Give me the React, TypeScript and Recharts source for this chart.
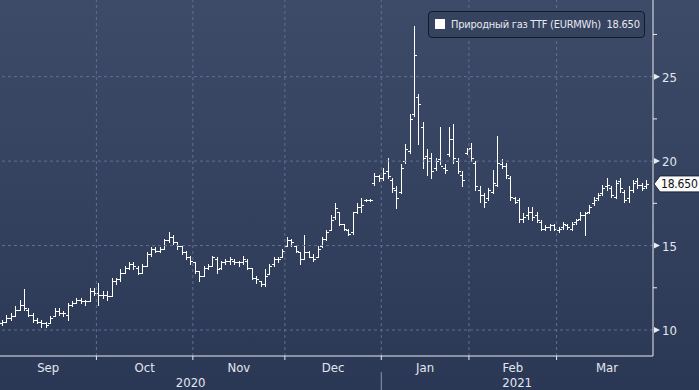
import React from 'react';
import { ComposedChart, Bar, XAxis, YAxis, ReferenceLine } from 'recharts';

// ---- data (daily OHLC, TTF natural gas, EUR/MWh) ----
const monthLabels = ['Sep', 'Oct', 'Nov', 'Dec', 'Jan', 'Feb', 'Mar'];
const monthTradingDays = [22, 22, 21, 22, 20, 20, 23];
const yearLabels = ['2020', '2021'];
const yearMonthCounts = [4, 3];
const yMajorTicks = [10, 15, 20, 25];
const yMinorTicks = [12.5, 17.5, 22.5, 27.5];
const lastPrice = 18.65;
const seriesName = 'Природный газ TTF (EURMWh)';

const opens = [
  // Sep
  10.4, 10.5, 10.7, 10.8, 11.2, 11.5, 11.2, 10.9, 10.6, 10.5, 10.4, 10.4, 10.8, 11.1, 11.0, 10.9, 11.5, 11.6, 11.8, 11.7, 11.7, 12.3,
  // Oct
  12.2, 12.1, 12.1, 12.0, 12.9, 13.0, 13.4, 13.7, 13.9, 13.7, 13.4, 13.8, 14.5, 14.8, 14.7, 14.8, 15.3, 15.5, 15.2, 15.0, 14.6, 14.3,
  // Nov
  14.0, 13.5, 13.2, 13.7, 13.8, 14.2, 13.7, 14.0, 14.1, 14.1, 14.0, 14.0, 14.1, 13.7, 13.1, 12.9, 12.7, 13.3, 13.9, 14.2, 14.3,
  // Dec
  15.0, 15.3, 15.0, 14.6, 14.2, 14.6, 14.3, 14.3, 15.0, 15.4, 15.9, 16.7, 17.0, 16.3, 15.9, 15.8, 17.0, 17.3, 17.7, 17.7, 18.7, 19.1,
  // Jan
  19.0, 19.4, 18.9, 18.3, 18.2, 20.0, 20.6, 22.8, 23.8, 22.0, 20.3, 20.2, 19.6, 20.1, 19.6, 20.4, 21.3, 20.0, 19.2, 20.5,
  // Feb
  20.8, 19.9, 18.3, 18.0, 17.8, 18.2, 18.6, 19.8, 19.7, 19.0, 17.8, 17.7, 16.6, 16.8, 17.0, 16.8, 16.4, 16.0, 16.1, 16.2,
  // Mar
  15.9, 16.1, 16.2, 16.0, 16.4, 16.6, 16.8, 17.0, 17.5, 17.8, 18.1, 18.5, 18.4, 17.9, 18.8, 18.2, 17.8, 18.3, 18.8, 18.6, 18.5,
];
const highs = [
  10.6, 10.9, 11.0, 11.4, 11.8, 12.4, 11.3, 11.0, 10.7, 10.6, 10.5, 10.8, 11.3, 11.3, 11.1, 11.6, 11.7, 11.9, 11.9, 11.8, 12.5, 12.5,
  12.8, 12.3, 12.3, 13.1, 13.1, 13.6, 13.8, 14.0, 14.0, 13.8, 13.9, 14.6, 14.9, 14.9, 14.9, 15.4, 15.8, 15.6, 15.2, 15.0, 14.7, 14.4,
  14.0, 13.5, 13.8, 13.9, 14.4, 14.3, 14.1, 14.2, 14.3, 14.2, 14.1, 14.4, 14.2, 13.7, 13.2, 12.9, 13.6, 13.9, 14.3, 14.3, 14.8,
  15.5, 15.4, 15.0, 14.6, 15.6, 14.7, 14.5, 15.0, 15.5, 15.9, 16.8, 17.5, 17.0, 16.3, 16.0, 17.0, 17.5, 17.8, 17.75, 17.75, 19.3, 19.2,
  19.6, 20.2, 19.0, 18.5, 19.8, 21.0, 22.8, 28.0, 24.0, 22.3, 20.7, 20.5, 20.2, 22.0, 19.8, 22.0, 22.2, 20.2, 19.4, 20.8,
  21.1, 20.0, 18.5, 18.1, 18.4, 19.5, 21.5, 20.1, 19.9, 19.1, 17.9, 17.8, 16.9, 17.3, 17.3, 17.0, 16.5, 16.2, 16.3, 16.3,
  16.1, 16.4, 16.3, 16.4, 16.6, 17.0, 17.0, 17.4, 17.9, 18.1, 18.6, 19.0, 18.5, 18.9, 19.0, 18.3, 18.5, 18.9, 19.0, 18.7, 18.9,
];
const lows = [
  10.3, 10.5, 10.6, 10.8, 11.2, 11.2, 10.8, 10.5, 10.4, 10.2, 10.2, 10.4, 10.8, 10.9, 10.8, 10.6, 11.4, 11.6, 11.6, 11.5, 11.7, 12.1,
  11.5, 11.9, 11.8, 12.0, 12.7, 12.9, 13.4, 13.6, 13.6, 13.3, 13.4, 13.8, 14.4, 14.6, 14.6, 14.8, 15.2, 15.1, 14.8, 14.5, 14.2, 13.9,
  13.4, 12.9, 13.2, 13.6, 13.8, 13.4, 13.6, 13.9, 13.9, 13.9, 13.8, 13.9, 13.6, 13.0, 12.8, 12.6, 12.6, 13.3, 13.8, 14.0, 14.3,
  15.0, 15.0, 14.6, 13.9, 14.2, 14.3, 14.1, 14.3, 14.9, 15.3, 15.9, 16.6, 16.2, 15.9, 15.6, 15.7, 16.9, 17.0, 17.65, 17.65, 18.6, 18.8,
  18.9, 19.0, 18.2, 17.2, 18.1, 19.9, 20.5, 22.7, 21.0, 19.6, 19.2, 19.0, 19.5, 19.8, 19.3, 20.3, 19.9, 19.3, 18.5, 20.4,
  20.0, 18.3, 17.6, 17.3, 17.7, 18.1, 18.5, 19.6, 19.0, 17.7, 17.5, 16.4, 16.4, 16.6, 16.5, 16.4, 15.9, 15.9, 15.9, 15.9,
  15.8, 16.0, 16.0, 15.9, 16.3, 16.5, 15.6, 16.9, 17.4, 17.7, 18.0, 18.3, 17.9, 17.8, 18.2, 17.6, 17.6, 18.2, 18.4, 18.3, 18.4,
];
const closes = [
  10.5, 10.7, 10.8, 11.2, 11.5, 11.3, 10.9, 10.6, 10.5, 10.4, 10.3, 10.7, 11.1, 11.0, 11.0, 11.5, 11.6, 11.8, 11.7, 11.7, 12.3, 12.2,
  12.1, 12.1, 12.0, 12.9, 13.0, 13.4, 13.7, 13.9, 13.8, 13.4, 13.8, 14.5, 14.8, 14.7, 14.8, 15.3, 15.5, 15.2, 15.0, 14.6, 14.3, 14.1,
  13.5, 13.2, 13.7, 13.8, 14.3, 13.6, 14.0, 14.1, 14.2, 14.0, 14.0, 14.2, 13.7, 13.1, 13.0, 12.7, 13.2, 13.8, 14.2, 14.2, 14.7,
  15.3, 15.2, 14.7, 14.2, 14.6, 14.3, 14.2, 14.8, 15.4, 15.8, 16.5, 17.2, 16.3, 16.0, 15.7, 17.0, 17.3, 17.4, 17.7, 17.7, 19.1, 19.0,
  19.3, 19.1, 18.4, 17.8, 19.6, 20.7, 22.5, 26.3, 23.4, 20.2, 20.0, 19.4, 20.0, 19.7, 19.5, 21.3, 20.2, 19.4, 18.9, 20.7,
  20.2, 18.5, 18.0, 17.6, 18.3, 18.7, 19.9, 19.7, 19.2, 17.9, 17.6, 16.6, 16.7, 17.0, 16.7, 16.5, 16.0, 16.1, 16.2, 16.0,
  16.0, 16.3, 16.1, 16.3, 16.5, 16.8, 16.9, 17.3, 17.7, 18.0, 18.4, 18.6, 18.0, 18.7, 18.4, 17.7, 18.3, 18.7, 18.6, 18.4, 18.65,
];

const data = closes.map((c, i) => ({
  i,
  o: opens[i],
  h: highs[i],
  l: lows[i],
  c,
  range: [lows[i], highs[i]],
}));

// ---- axis helpers derived from the arrays ----
const X_DOMAIN: [number, number] = [-0.5, data.length + 0.5];
const monthBounds: number[] = [];
const monthCenters: number[] = [];
{
  let start = -0.5;
  monthTradingDays.forEach((n, k) => {
    const end = start + n;
    monthCenters.push((start + end) / 2);
    if (k < monthTradingDays.length - 1) monthBounds.push(end);
    start = end;
  });
}
const yearBounds: number[] = [];
const yearCenters: number[] = [];
{
  let m = 0;
  let start = -0.5;
  yearMonthCounts.forEach((cnt, k) => {
    let end = start;
    for (let j = 0; j < cnt; j++) end += monthTradingDays[m + j];
    m += cnt;
    const clippedEnd = Math.min(end, X_DOMAIN[1]);
    yearCenters.push((start + clippedEnd) / 2);
    if (k < yearMonthCounts.length - 1) yearBounds.push(end);
    start = end;
  });
}

const FONT = '"Liberation Sans Narrow", "DejaVu Sans Condensed", "Liberation Sans", Arial, sans-serif';
const TEXT = '#e3e7ee';
const AXIS = '#e8ebf0';
const GRID = '#60708f';

function OhlcShape(props: any) {
  const { x, y, width, height, payload } = props;
  if (!payload || x == null || y == null) return null;
  const cx = Math.round(x + width / 2) + 0.5;
  const top = Math.min(y, y + height);
  const bot = Math.max(y, y + height);
  const span = payload.h - payload.l;
  const toY = (v: number) => (span > 0 ? top + ((payload.h - v) / span) * (bot - top) : top);
  const yo = Math.round(toY(payload.o)) + 0.5;
  const yc = Math.round(toY(payload.c)) + 0.5;
  return (
    <g stroke="#ffffff" strokeWidth={1} shapeRendering="crispEdges">
      <line x1={cx} x2={cx} y1={Math.round(top)} y2={Math.round(bot) + 1} />
      <line x1={cx - 2.5} x2={cx} y1={yo} y2={yo} />
      <line x1={cx} x2={cx + 2.5} y1={yc} y2={yc} />
    </g>
  );
}

function MonthTick(props: any) {
  const { x, y, payload } = props;
  const v = payload.value;
  const bi = monthBounds.indexOf(v);
  if (bi >= 0) {
    return <line x1={x} x2={x} y1={y} y2={y + 4} stroke={AXIS} strokeWidth={1} />;
  }
  const ci = monthCenters.indexOf(v);
  if (ci < 0) return null;
  return (
    <text x={x} y={y + 16} textAnchor="middle" fill={TEXT} fontSize={13} fontFamily={FONT}>
      {monthLabels[ci]}
    </text>
  );
}

function YearTick(props: any) {
  const { x, y, payload } = props;
  const v = payload.value;
  if (yearBounds.indexOf(v) >= 0) {
    return <line x1={x} x2={x} y1={y + 2} y2={y + 22} stroke="#8b97ad" strokeWidth={1} />;
  }
  const ci = yearCenters.indexOf(v);
  if (ci < 0) return null;
  return (
    <text x={x} y={y + 17} textAnchor="middle" fill={TEXT} fontSize={13} fontFamily={FONT}>
      {yearLabels[ci]}
    </text>
  );
}

function PriceTick(props: any) {
  const { x, y, payload } = props;
  const v = payload.value;
  if (v === lastPrice) {
    const h = 8;
    return (
      <g>
        <path
          d={`M${x + 1},${y} L${x + 7},${y - h} L${x + 50},${y - h} L${x + 50},${y + h} L${x + 7},${y + h} Z`}
          fill="#fbfbfb"
          stroke="#1c2333"
          strokeWidth={1}
        />
        <text x={x + 8} y={y + 4.5} fill="#111" fontSize={12} letterSpacing={-0.2} fontFamily={FONT}>
          {lastPrice.toFixed(3)}
        </text>
      </g>
    );
  }
  if (yMajorTicks.indexOf(v) >= 0) {
    return (
      <g>
        <path d={`M${x + 1},${y - 3} L${x + 7},${y} L${x + 1},${y + 3} Z`} fill={AXIS} />
        <text x={x + 9} y={y + 5} fill={TEXT} fontSize={13} fontFamily={FONT}>
          {v}
        </text>
      </g>
    );
  }
  return <line x1={x} x2={x + 4} y1={y} y2={y} stroke={AXIS} strokeWidth={1} />;
}

export default function App() {
  const yTicks = [...yMajorTicks, ...yMinorTicks, lastPrice].sort((a, b) => a - b);
  const xTicks = [...monthBounds, ...monthCenters].sort((a, b) => a - b);
  const yrTicks = [...yearBounds, ...yearCenters].sort((a, b) => a - b);
  return (
    <div
      style={{
        position: 'absolute',
        left: 0,
        top: 0,
        width: 699,
        height: 390,
        background: 'linear-gradient(to bottom, #3e4b68 0%, #34425f 50%, #2b3855 100%)',
        overflow: 'hidden',
      }}
    >
      <ComposedChart width={699} height={390} data={data} margin={{ top: 0, right: 0, bottom: 0, left: 0 }}>
        <XAxis
          xAxisId="m"
          dataKey="i"
          type="number"
          domain={X_DOMAIN}
          ticks={xTicks}
          interval={0}
          height={14}
          tickSize={0}
          tickMargin={0}
          tickLine={false}
          axisLine={{ stroke: AXIS, strokeWidth: 1 }}
          tick={<MonthTick />}
        />
        <XAxis
          xAxisId="yr"
          dataKey="i"
          type="number"
          domain={X_DOMAIN}
          ticks={yrTicks}
          interval={0}
          height={20}
          tickSize={0}
          tickMargin={0}
          tickLine={false}
          axisLine={false}
          tick={<YearTick />}
        />
        <YAxis
          orientation="right"
          domain={[8.46, 29.54]}
          allowDataOverflow
          ticks={yTicks}
          interval={0}
          width={46}
          tickSize={0}
          tickMargin={0}
          tickLine={false}
          axisLine={{ stroke: AXIS, strokeWidth: 1 }}
          tick={<PriceTick />}
        />
        {yMajorTicks.map((v) => (
          <ReferenceLine key={'h' + v} xAxisId="m" y={v} stroke={GRID} strokeDasharray="3 3" strokeWidth={1} />
        ))}
        {monthBounds.map((v) => (
          <ReferenceLine key={'v' + v} xAxisId="m" x={v} stroke={GRID} strokeDasharray="3 3" strokeWidth={1} />
        ))}
        <Bar xAxisId="m" dataKey="range" barSize={5} shape={<OhlcShape />} isAnimationActive={false} />
      </ComposedChart>
      <div
        style={{
          position: 'absolute',
          left: 428,
          top: 11,
          width: 215,
          height: 25,
          border: '1px solid #131a28',
          borderRadius: 4,
          background: '#36435f',
          boxSizing: 'content-box',
          fontFamily: FONT,
          fontSize: 11,
          letterSpacing: '-0.25px',
          color: '#e6e9ef',
          whiteSpace: 'pre',
        }}
      >
        <div style={{ position: 'absolute', left: 6, top: 7, width: 10, height: 10, background: '#ffffff' }} />
        <div style={{ position: 'absolute', left: 22, top: 0, lineHeight: '25px' }}>
          {seriesName + '  ' + lastPrice.toFixed(3)}
        </div>
      </div>
    </div>
  );
}
